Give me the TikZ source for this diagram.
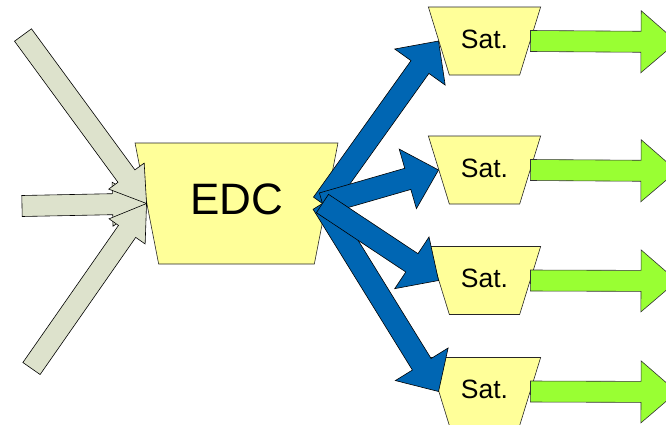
\documentclass[tikz,border=0pt]{standalone}
\usepackage{fontspec}
\setmainfont{Liberation Sans}
\usetikzlibrary{shapes.geometric,calc}
\definecolor{satyellow}{RGB}{255,255,153}
\definecolor{feedgray}{RGB}{221,226,204}
\definecolor{linkblue}{RGB}{0,102,179}
\definecolor{outgreen}{RGB}{153,255,51}

% block arrow: style, from, to, shaft half width, head half width, head length
\newcommand{\fatarrow}[6]{%
  \coordinate (fa-base) at ($(#3)!#6!(#2)$);
  \draw[#1] ($(#2)!#4!90:(#3)$) -- ($(fa-base)!#4!90:(#3)$) -- ($(fa-base)!#5!90:(#3)$) -- (#3)
    -- ($(fa-base)!#5!-90:(#3)$) -- ($(fa-base)!#4!-90:(#3)$) -- ($(#2)!#4!-90:(#3)$) -- cycle;
}

\tikzset{
  tbox/.style={trapezium,shape border rotate=180,trapezium stretches=true,
    draw=black!85,fill=satyellow,line width=0.6pt,inner sep=0pt},
  edcbox/.style={tbox,trapezium left angle=70,trapezium right angle=70,
    minimum width=203pt,minimum height=121pt,text depth=8pt,font=\fontsize{44}{50}\selectfont},
  satbox/.style={tbox,trapezium left angle=58,trapezium right angle=58,
    minimum width=113pt,minimum height=68pt,text depth=4pt,font=\fontsize{26.5}{30}\selectfont},
  feed/.style={fill=feedgray,draw=black,line width=0.6pt,line join=miter},
  link/.style={fill=linkblue,draw=black,line width=0.6pt,line join=miter},
  outflow/.style={fill=outgreen,draw=black!80,line width=0.6pt,line join=miter}
}

\begin{document}
\begin{tikzpicture}[x=1pt,y=-1pt]
    \useasboundingbox (0,0) rectangle (666,424);

    \node[edcbox] (edc) at (236.5,203.5) {EDC};
    \node[satbox] (sat1) at (484.5,41) {Sat.};
    \node[satbox] (sat2) at (484.5,170) {Sat.};
    \node[satbox] (sat3) at (484.5,280.5) {Sat.};
    \node[satbox] (sat4) at (484.5,391.5) {Sat.};

    % inputs
    \coordinate (in1) at (23,35);
    \coordinate (in2) at (22,206);
    \coordinate (in3) at (31.5,368.5);
    \fatarrow{feed}{in2}{edc.west}{10.5pt}{22pt}{34pt}
    \fatarrow{feed}{in1}{edc.west}{10.5pt}{22pt}{34pt}
    \fatarrow{feed}{in3}{edc.west}{10.5pt}{22pt}{34pt}

    % links to the satellites
    \coordinate (hub) at ([xshift=-4pt]edc.east);
    \fatarrow{link}{hub}{sat1.west}{11pt}{31pt}{32pt}
    \fatarrow{link}{hub}{sat2.west}{11pt}{31pt}{32pt}
    \fatarrow{link}{hub}{sat4.west}{11pt}{31pt}{32pt}
    \fatarrow{link}{hub}{sat3.west}{11pt}{31pt}{32pt}

    % outputs
    \coordinate (out1) at (677,42);
    \coordinate (out2) at (677,171);
    \coordinate (out3) at (677,281);
    \coordinate (out4) at (677,392);
    \fatarrow{outflow}{sat1.east}{out1}{10.5pt}{31pt}{36pt}
    \fatarrow{outflow}{sat2.east}{out2}{10.5pt}{31pt}{36pt}
    \fatarrow{outflow}{sat3.east}{out3}{10.5pt}{31pt}{36pt}
    \fatarrow{outflow}{sat4.east}{out4}{10.5pt}{31pt}{36pt}
\end{tikzpicture}
\end{document}
